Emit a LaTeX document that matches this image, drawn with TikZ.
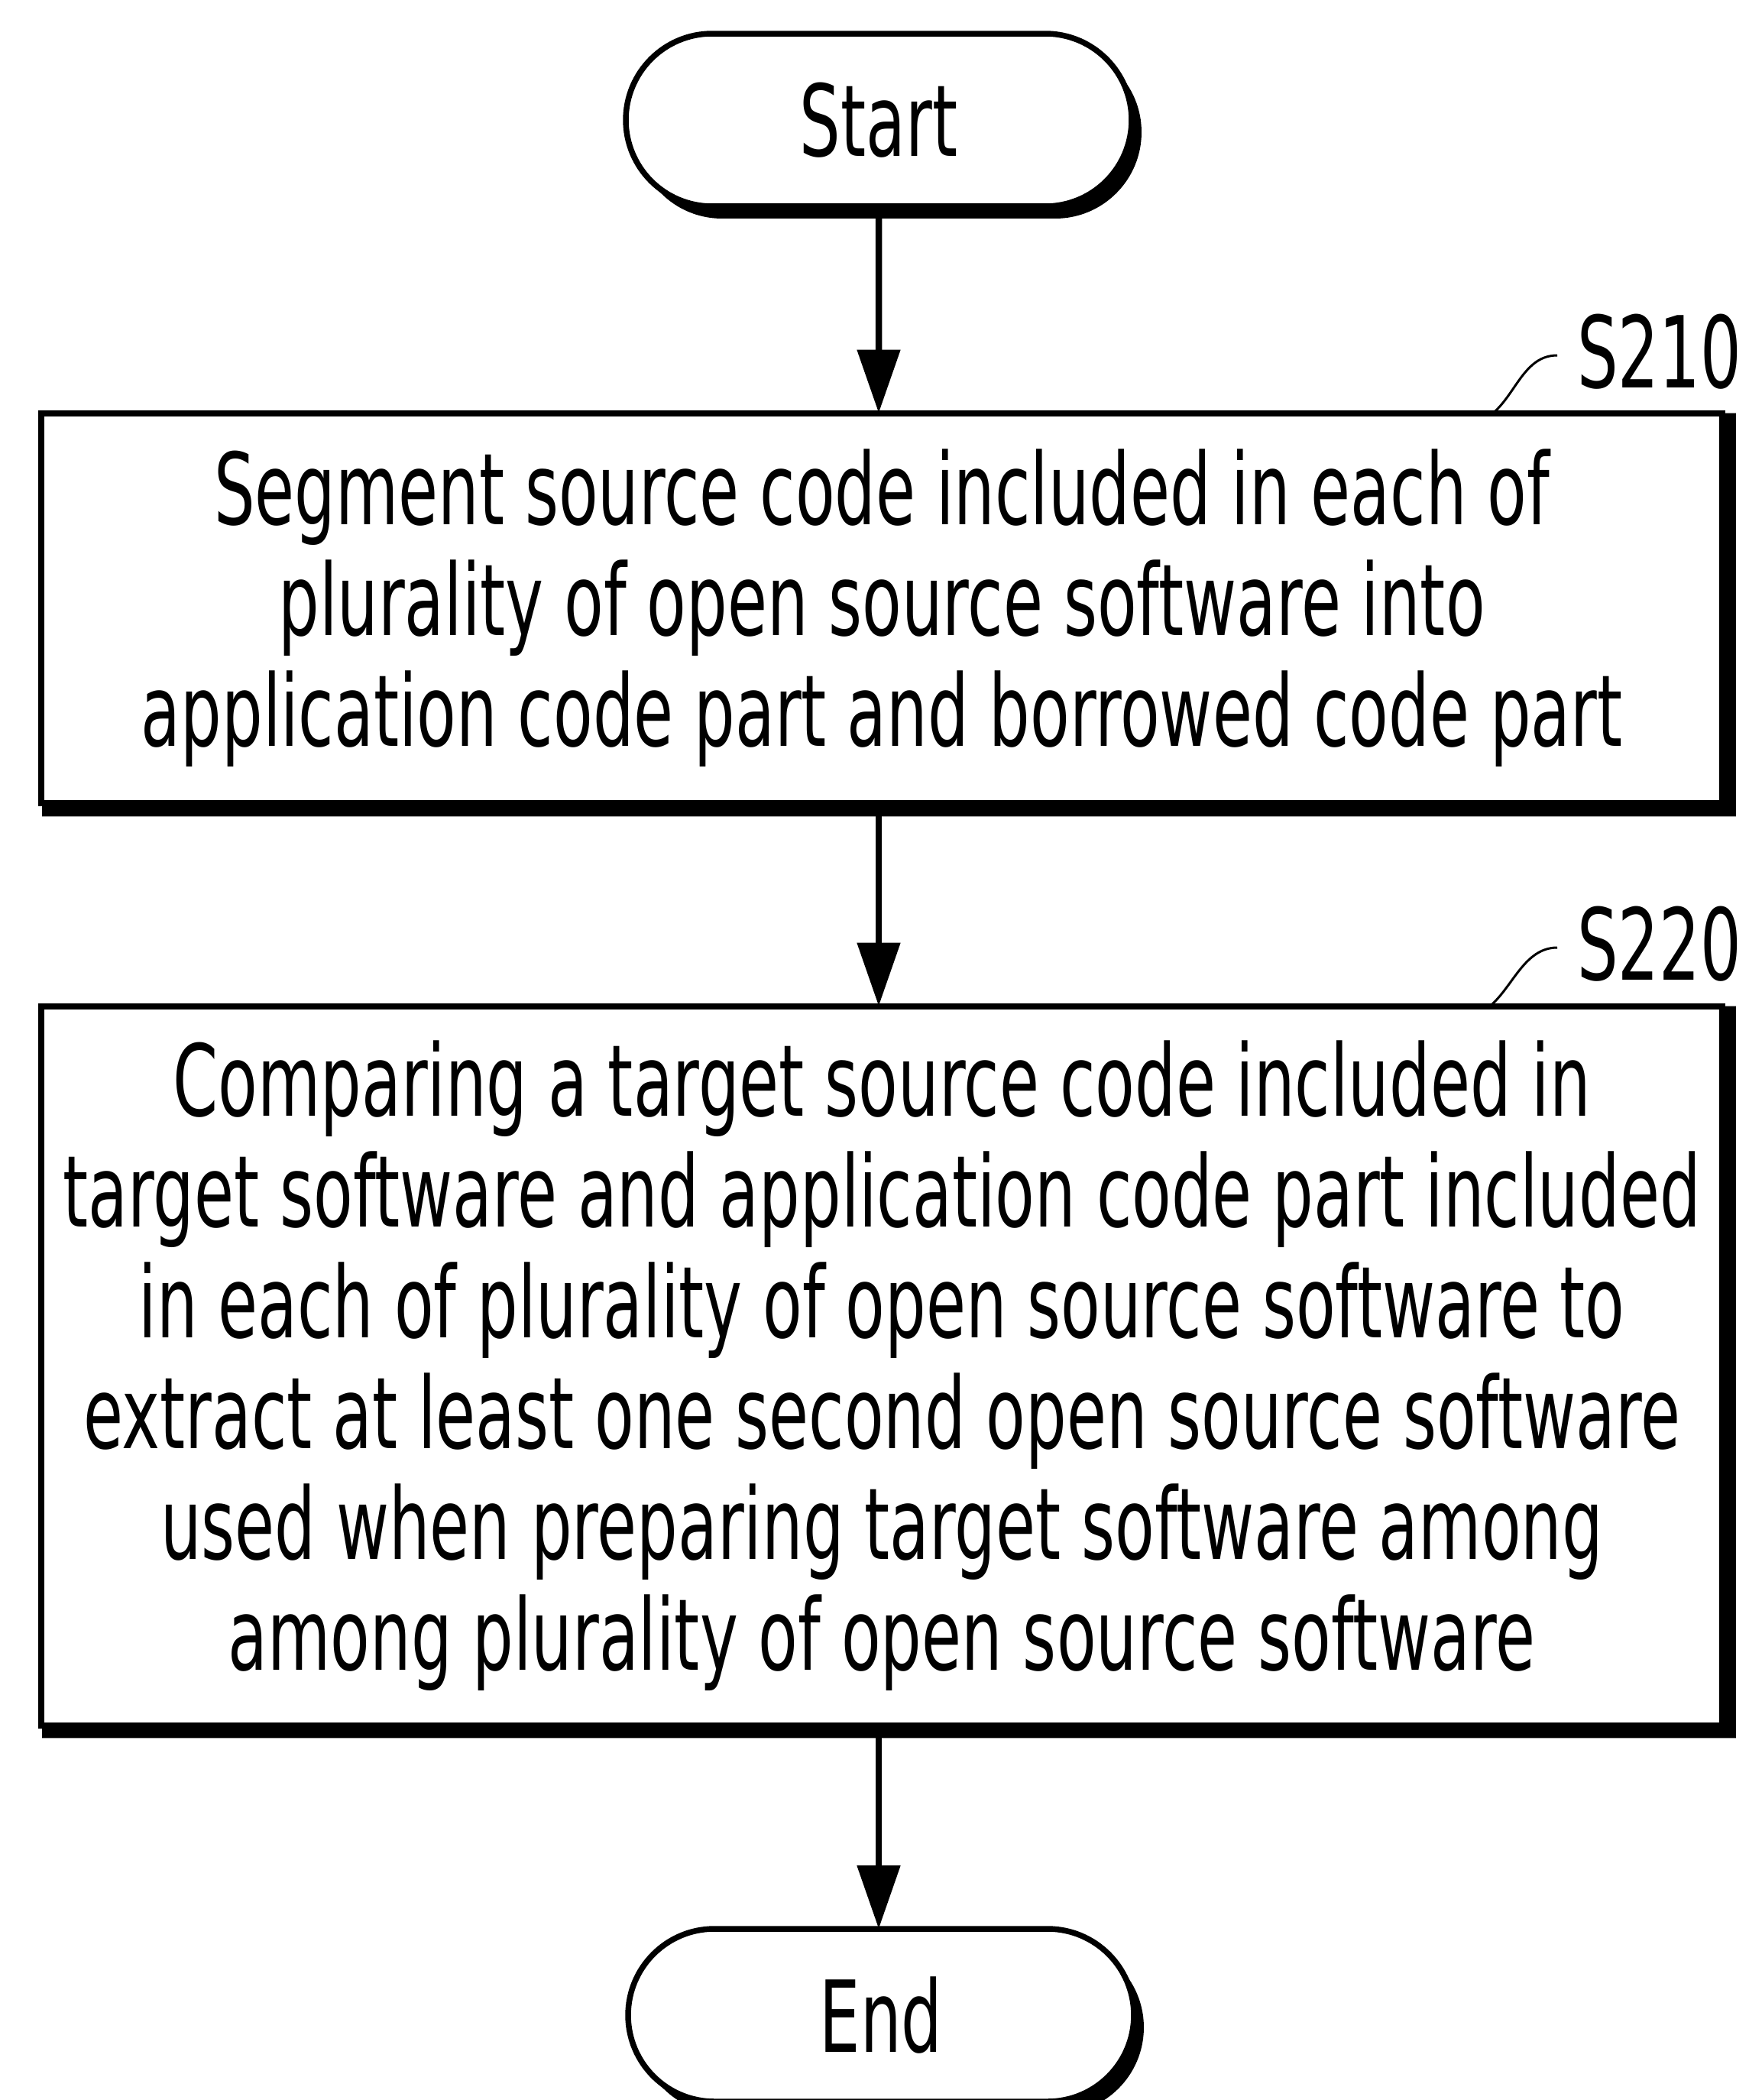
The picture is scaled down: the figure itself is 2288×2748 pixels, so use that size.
\documentclass[tikz,border=0pt]{standalone}
\usepackage{fontspec}
\setmainfont{DejaVu Sans}[FakeStretch=0.65]
\usetikzlibrary{shapes.misc,shadows,arrows.meta}

\tikzset{
  terminal/.style={rounded rectangle, draw, line width=0.75pt, fill=white,
    minimum width=66.2pt, minimum height=22.6pt, outer sep=0pt, inner sep=0pt,
    font=\fontsize{13pt}{15pt}\selectfont,
    drop shadow={shadow xshift=1.3pt, shadow yshift=-1.6pt, fill=black, opacity=1}},
  stepbox/.style={rectangle, draw, line width=0.8pt, fill=white,
    minimum width=220pt, outer sep=0pt, inner sep=0pt, align=center,
    font=\fontsize{13pt}{14.5pt}\selectfont},
  steplabel/.style={anchor=west, inner sep=0pt, font=\fontsize{13pt}{14pt}\selectfont},
  flow/.style={line width=0.85pt, -{Triangle[width=5.5pt,length=8.3pt]}},
  leader/.style={line width=0.3pt},
}

% heavy right and bottom edge of a process box
\newcommand\heavyedge[1]{%
  \fill ([xshift=-0.4pt]#1.north east) -- ([xshift=1.8pt]#1.north east)
    -- ([xshift=1.8pt,yshift=-1.7pt]#1.south east)
    -- ([xshift=0.1pt,yshift=-1.7pt]#1.south west)
    -- ([xshift=0.1pt]#1.south west)
    -- ([xshift=-0.4pt]#1.south east) -- cycle;}

\begin{document}
\begin{tikzpicture}[x=0.1pt,y=-0.1pt]
\useasboundingbox (0,0) rectangle (2288,2748);

\node[terminal] (start) at (1150,157) {Start};

\node[stepbox, minimum height=51.1pt] (s210) at (1154,796)
  {Segment source code included in each of\\
   plurality of open source software into\\
   application code part and borrowed code part};
\heavyedge{s210}

\node[stepbox, minimum height=94.1pt] (s220) at (1154,1787)
  {Comparing a target source code included in\\
   target software and application code part included\\
   in each of plurality of open source software to\\
   extract at least one second open source software\\
   used when preparing target software among\\
   among plurality of open source software};
\heavyedge{s220}

\node[terminal] (end) at (1153,2637) {End};

\node[steplabel] (l210) at (2062,460) {S210};
\node[steplabel] (l220) at (2062,1235) {S220};

\draw[leader] ([xshift=-30pt]s210.north east) .. controls +(30,-25) and +(-43,0) .. ([xshift=-2.4pt,yshift=-0.5pt]l210.west);
\draw[leader] ([xshift=-30.4pt]s220.north east) .. controls +(30,-25) and +(-43,0) .. ([xshift=-2.4pt,yshift=-0.5pt]l220.west);

\draw[flow] (start) -- (start |- s210.north);
\draw[flow] (s210.south -| start) -- (start |- s220.north);
\draw[flow] (s220.south -| start) -- (start |- end.north);
\end{tikzpicture}
\end{document}
